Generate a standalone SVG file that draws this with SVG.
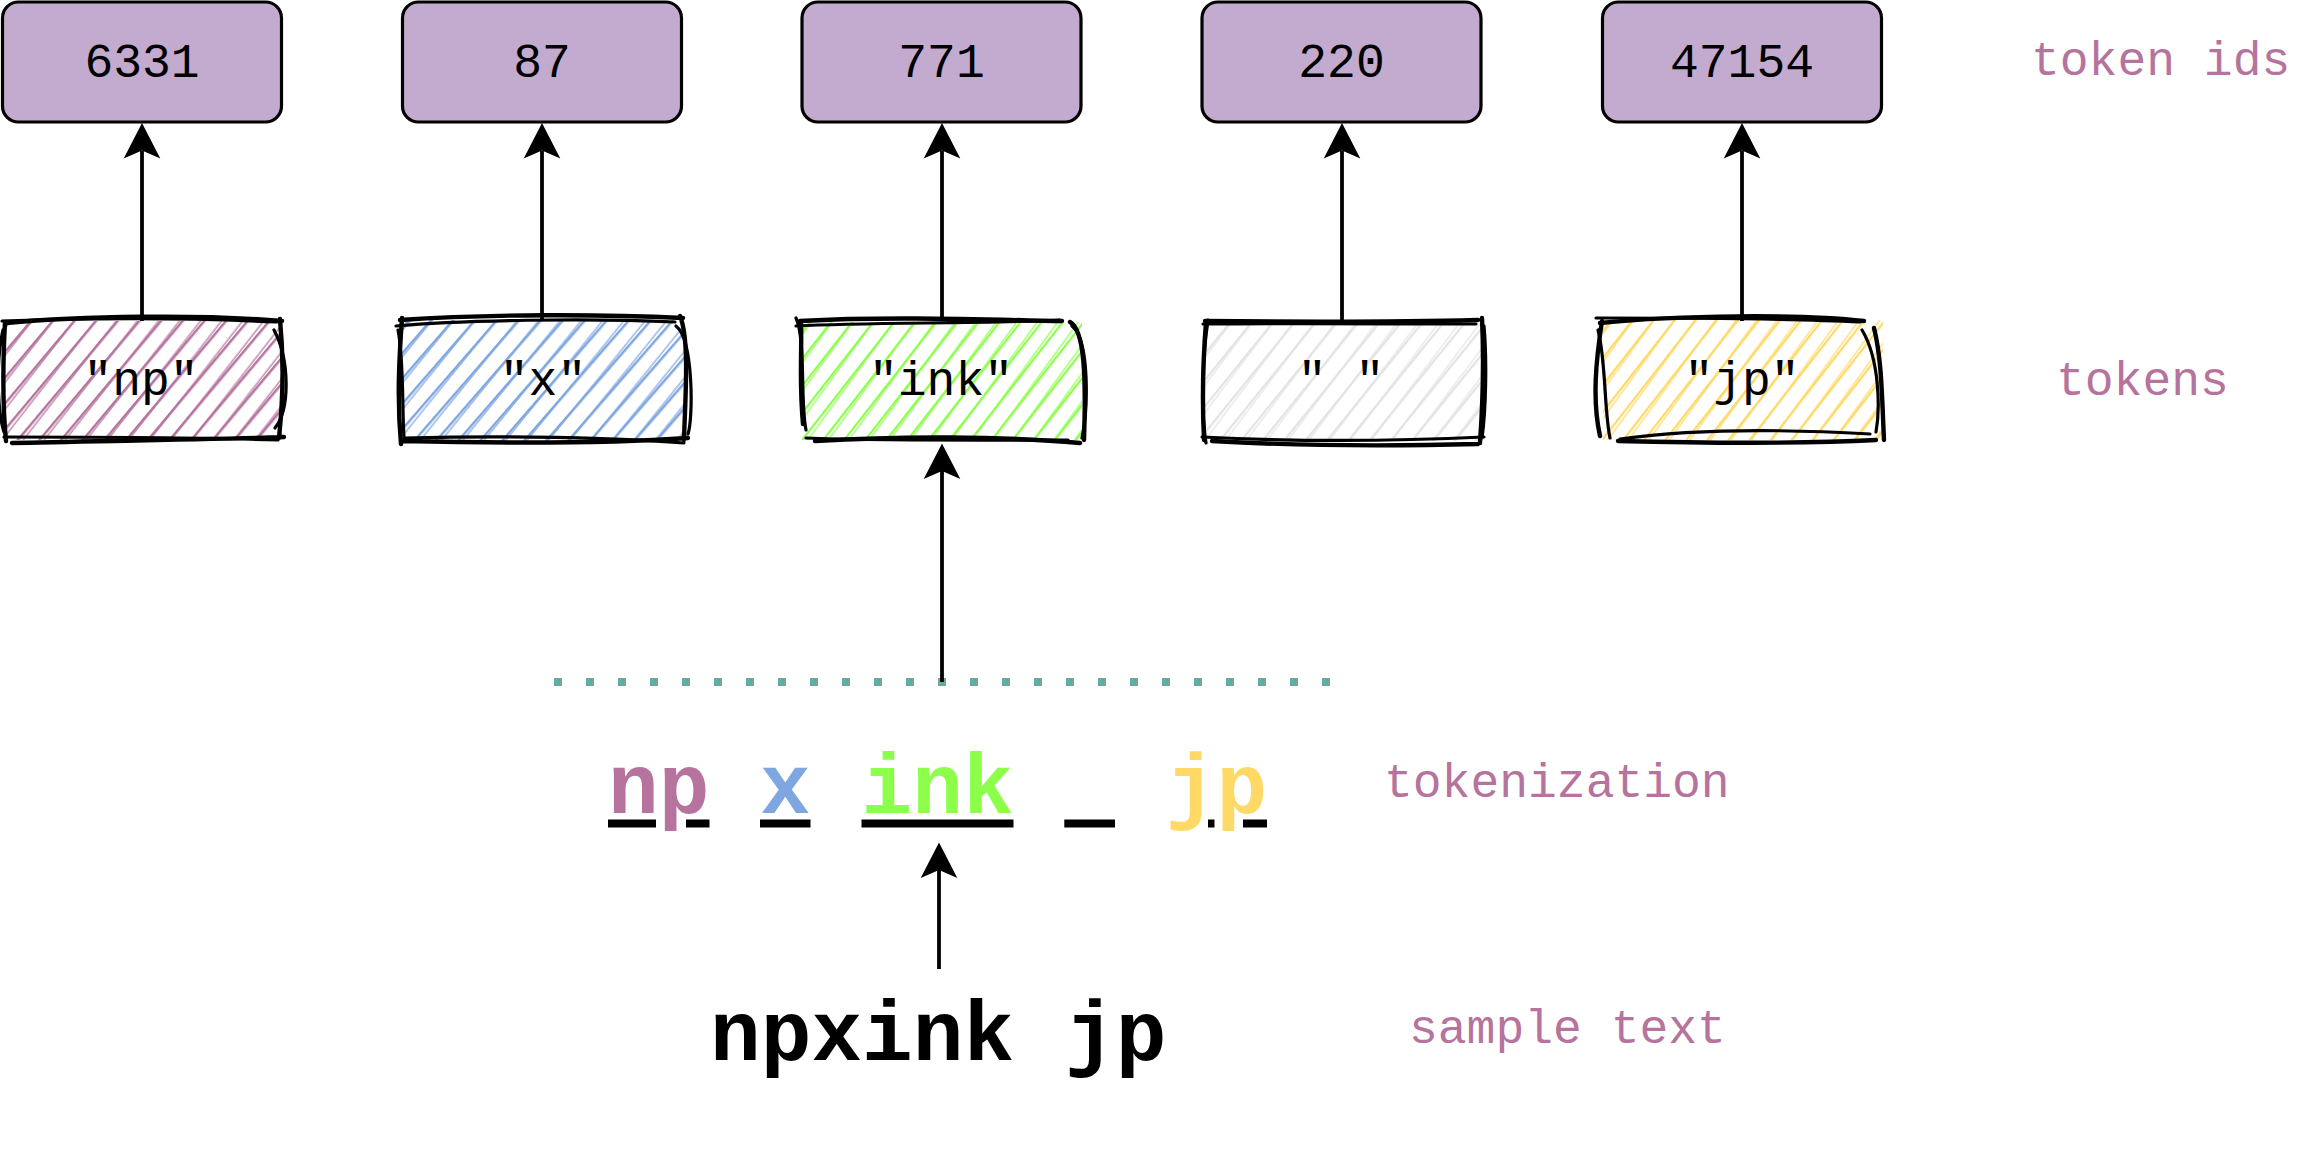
<svg xmlns="http://www.w3.org/2000/svg" width="2300" height="1152" viewBox="0 0 2300 1152">
<style>
.mono{font-family:"Liberation Mono","DejaVu Sans Mono",monospace}
.idbox{fill:#C3ABD0;stroke:#000;stroke-width:3.2}
.lbl{font-size:48px;fill:#000;text-anchor:middle}
.side{font-size:48px;fill:#B5739D}
.big{font-size:84.5px;font-weight:bold}
.rough{fill:none;stroke:#000;stroke-width:4.4;stroke-linecap:round;stroke-linejoin:round}
.rough2{fill:none;stroke:#000;stroke-width:3.2;stroke-linecap:round;stroke-linejoin:round}
.conn{fill:none;stroke:#000;stroke-width:3.8;marker-end:url(#ah)}
.ul{fill:#000}
</style>
<defs>
<marker id="ah" markerUnits="userSpaceOnUse" markerWidth="37" markerHeight="37" refX="8" refY="18.3" orient="auto" overflow="visible">
<path d="M0,0 L35.6,18.3 L0,36.6 L8,18.3 Z" fill="#000"/>
</marker>
<pattern id="hA-np" patternUnits="userSpaceOnUse" width="40" height="16.6" patternTransform="rotate(-50 142 380)"><line x1="0" y1="8" x2="40" y2="8" stroke="#B5739D" stroke-width="2.4"/></pattern>
<pattern id="hB-np" patternUnits="userSpaceOnUse" width="40" height="16.6" patternTransform="rotate(-52 142 380)"><line x1="0" y1="8" x2="40" y2="8" stroke="#B5739D" stroke-width="1.3"/></pattern>
<pattern id="hA-x" patternUnits="userSpaceOnUse" width="40" height="16.6" patternTransform="rotate(-49 542 380)"><line x1="0" y1="8" x2="40" y2="8" stroke="#7EA6E0" stroke-width="2.4"/></pattern>
<pattern id="hB-x" patternUnits="userSpaceOnUse" width="40" height="16.6" patternTransform="rotate(-51 542 380)"><line x1="0" y1="8" x2="40" y2="8" stroke="#7EA6E0" stroke-width="1.3"/></pattern>
<pattern id="hA-ink" patternUnits="userSpaceOnUse" width="40" height="16.6" patternTransform="rotate(-52 942 380)"><line x1="0" y1="8" x2="40" y2="8" stroke="#8CFF4A" stroke-width="2.2"/></pattern>
<pattern id="hB-ink" patternUnits="userSpaceOnUse" width="40" height="16.6" patternTransform="rotate(-54 942 380)"><line x1="0" y1="8" x2="40" y2="8" stroke="#8CFF4A" stroke-width="1.3"/></pattern>
<pattern id="hA-sp" patternUnits="userSpaceOnUse" width="40" height="16.6" patternTransform="rotate(-51 1342 380)"><line x1="0" y1="8" x2="40" y2="8" stroke="#E3E3E3" stroke-width="2.2"/></pattern>
<pattern id="hB-sp" patternUnits="userSpaceOnUse" width="40" height="16.6" patternTransform="rotate(-53 1342 380)"><line x1="0" y1="8" x2="40" y2="8" stroke="#E3E3E3" stroke-width="1.3"/></pattern>
<pattern id="hA-jp" patternUnits="userSpaceOnUse" width="40" height="16.6" patternTransform="rotate(-52 1742 380)"><line x1="0" y1="8" x2="40" y2="8" stroke="#FFD966" stroke-width="2.2"/></pattern>
<pattern id="hB-jp" patternUnits="userSpaceOnUse" width="40" height="16.6" patternTransform="rotate(-54 1742 380)"><line x1="0" y1="8" x2="40" y2="8" stroke="#FFD966" stroke-width="1.3"/></pattern>
</defs>
<rect width="2300" height="1152" fill="#fff"/>

<!-- token id boxes -->
<g id="id-6331"><rect class="idbox" x="2.5" y="2" width="279" height="120" rx="16"/><text class="mono lbl" x="142" y="77">6331</text></g>
<g id="id-87"><rect class="idbox" x="402.5" y="2" width="279" height="120" rx="16"/><text class="mono lbl" x="542" y="77">87</text></g>
<g id="id-771"><rect class="idbox" x="802" y="2" width="279" height="120" rx="16"/><text class="mono lbl" x="941.5" y="77">771</text></g>
<g id="id-220"><rect class="idbox" x="1202" y="2" width="279" height="120" rx="16"/><text class="mono lbl" x="1341.5" y="77">220</text></g>
<g id="id-47154"><rect class="idbox" x="1602.5" y="2" width="279" height="120" rx="16"/><text class="mono lbl" x="1742" y="77">47154</text></g>

<!-- token boxes (sketch style) -->
<g id="tok-np">
<rect x="4" y="321" width="278" height="119" fill="url(#hA-np)"/>
<rect x="4" y="321" width="278" height="119" fill="url(#hB-np)"/>
<path class="rough" d="M6,323 C80,316 200,314 282,321 M280,319 C284,360 283,400 279,438 M284,437 C200,440 90,441 12,443 M6,441 C2,400 3,360 5,322"/>
<path class="rough2" d="M2,321 C90,318 190,318 277,322 M274,330 C290,360 290,410 275,428 M278,440 C190,437 100,437 4,437 M3,330 C-4,360 -3,410 4,432"/>
<text class="mono lbl" x="141" y="395">"np"</text>
</g>
<g id="tok-x">
<rect x="402" y="320" width="282" height="121" fill="url(#hA-x)"/>
<rect x="402" y="320" width="282" height="121" fill="url(#hB-x)"/>
<path class="rough" d="M400,320 C490,314 600,314 683,318 M680,316 C690,340 685,400 684,440 M688,438 C600,444 490,443 402,441 M401,444 C397,400 399,360 402,318"/>
<path class="rough2" d="M396,326 C460,320 590,318 675,322 M676,326 C694,340 693,420 688,434 M684,443 C590,436 490,436 404,438 M398,330 C404,360 402,410 404,437"/>
<text class="mono lbl" x="543" y="395">"x"</text>
</g>
<g id="tok-ink">
<rect x="802" y="322" width="280" height="118" fill="url(#hA-ink)"/>
<rect x="802" y="322" width="280" height="118" fill="url(#hB-ink)"/>
<path class="rough" d="M800,321 C890,316 1000,320 1062,321 M1070,322 C1085,330 1086,380 1084,440 M1080,443 C1000,436 900,436 815,441 M803,424 C799,380 802,360 801,322"/>
<path class="rough2" d="M796,326 C870,322 980,324 1060,320 M1072,326 C1090,340 1088,410 1082,438 M1068,440 C990,440 880,441 806,438 M796,318 C806,340 800,400 806,430"/>
<text class="mono lbl" x="941" y="395">"ink"</text>
</g>
<g id="tok-space">
<rect x="1204" y="322" width="278" height="119" fill="url(#hA-sp)"/>
<rect x="1204" y="322" width="278" height="119" fill="url(#hB-sp)"/>
<path class="rough" d="M1205,321 C1300,322 1400,322 1478,320 M1482,318 C1484,360 1483,400 1480,443 M1478,444 C1400,446 1300,446 1212,441 M1204,440 C1202,400 1203,360 1206,322"/>
<path class="rough2" d="M1203,324 C1290,323 1400,324 1476,324 M1484,326 C1487,360 1486,410 1482,438 M1484,437 C1400,441 1300,442 1202,437 M1208,320 C1202,360 1201,410 1206,443"/>
<text class="mono lbl" x="1341" y="395">" "</text>
</g>
<g id="tok-jp">
<rect x="1603" y="320" width="280" height="120" fill="url(#hA-jp)"/>
<rect x="1603" y="320" width="280" height="120" fill="url(#hB-jp)"/>
<path class="rough" d="M1600,323 C1680,315 1800,314 1864,321 M1874,328 C1882,360 1882,400 1884,440 M1876,440 C1800,444 1700,443 1618,441 M1600,436 C1592,400 1596,360 1602,321"/>
<path class="rough2" d="M1596,318 C1690,318 1800,319 1860,322 M1862,330 C1880,360 1880,410 1876,432 M1870,434 C1800,430 1700,428 1620,439 M1598,330 C1606,360 1604,410 1610,438"/>
<text class="mono lbl" x="1742" y="395">"jp"</text>
</g>

<!-- divider -->
<g id="divider"><line x1="554" y1="682" x2="1331" y2="682" stroke="#67AB9F" stroke-width="8" stroke-dasharray="8 24"/></g>

<!-- tokenization -->
<g id="tokenization">
<text class="mono big" y="813"><tspan x="608" fill="#B5739D">np</tspan><tspan x="760" fill="#7EA6E0">x</tspan><tspan x="861.5" fill="#8CFF4A">ink</tspan><tspan x="1165.7" fill="#FFD966">jp</tspan></text>
<rect class="ul" x="608" y="819.5" width="48" height="8"/>
<rect class="ul" x="686" y="819.5" width="23.5" height="8"/>
<rect class="ul" x="760" y="819.5" width="50.5" height="8"/>
<rect class="ul" x="861.5" y="819.5" width="152" height="8"/>
<rect class="ul" x="1064.3" y="819.5" width="50.7" height="8"/>
<rect class="ul" x="1208" y="819.5" width="6.5" height="8"/>
<rect class="ul" x="1243" y="819.5" width="24" height="8"/>
</g>

<!-- sample text -->
<g id="sample"><text class="mono big" x="710" y="1060" fill="#000">npxink jp</text></g>

<!-- side labels -->
<g id="labels">
<text class="mono side" x="2031" y="75">token ids</text>
<text class="mono side" x="2056" y="395">tokens</text>
<text class="mono side" x="1384" y="797">tokenization</text>
<text class="mono side" x="1409" y="1043">sample text</text>
</g>

<!-- connectors -->
<g id="connectors">
<path class="conn" d="M142,321 L142,150.5"/>
<path class="conn" d="M542,321 L542,150.5"/>
<path class="conn" d="M942,321 L942,150.5"/>
<path class="conn" d="M1342,321 L1342,150.5"/>
<path class="conn" d="M1742,321 L1742,150.5"/>
<path class="conn" d="M942,682 L942,471"/>
<path class="conn" d="M939,969 L939,870"/>
</g>
</svg>
